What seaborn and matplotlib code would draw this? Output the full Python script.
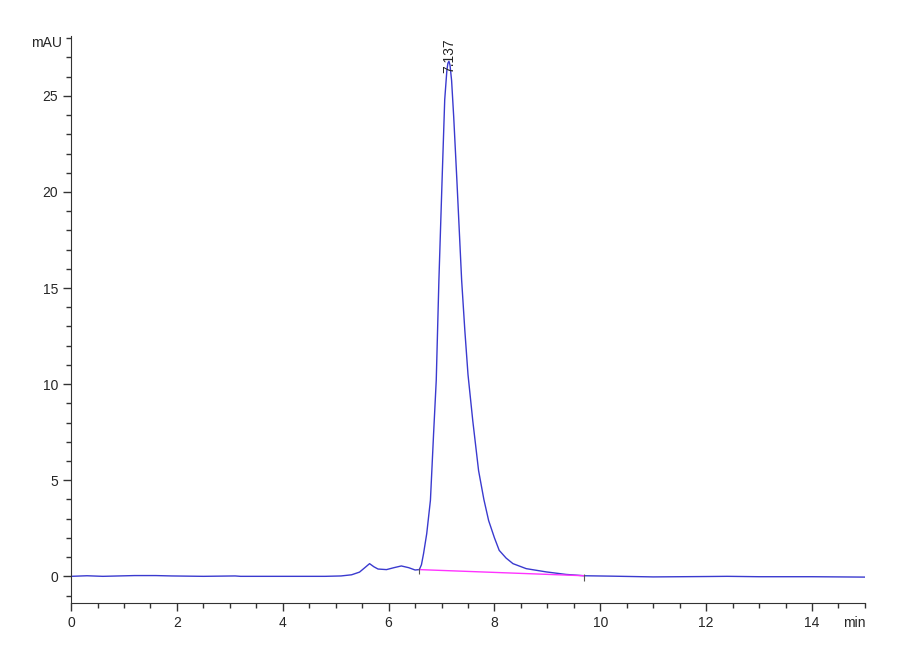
import numpy as np
import pandas as pd
import seaborn as sns
import matplotlib
matplotlib.use("Agg")
import matplotlib.pyplot as plt
import matplotlib.ticker as ticker

# chromatogram trace (time in min, signal in mAU)
time_min = [0.0, 0.3, 0.6, 0.9, 1.2, 1.6, 1.9, 2.5, 3.1, 3.2, 4.0, 4.8,
            5.1, 5.3, 5.45, 5.55, 5.64, 5.72, 5.8, 5.96, 6.1, 6.24, 6.38,
            6.5, 6.58, 6.62, 6.66, 6.72, 6.79, 6.82, 6.85, 6.90, 6.95,
            7.01, 7.06, 7.10, 7.12, 7.14, 7.16, 7.19, 7.23, 7.29, 7.38,
            7.44, 7.50, 7.59, 7.70, 7.80, 7.89, 8.00, 8.09, 8.22, 8.35,
            8.60, 8.98, 9.35, 9.70, 10.2, 11.0, 12.0, 12.4, 13.0, 14.0,
            14.5, 15.0]
signal_mau = [0.0, 0.03, 0.0, 0.02, 0.04, 0.04, 0.02, 0.0, 0.02, 0.0, 0.0, 0.0,
              0.02, 0.08, 0.22, 0.45, 0.66, 0.5, 0.38, 0.35, 0.45, 0.54, 0.45,
              0.33, 0.35, 0.6, 1.18, 2.22, 3.96, 5.69, 7.44, 10.2, 15.4,
              20.6, 24.8, 26.3, 26.7, 26.8, 26.6, 25.8, 23.9, 20.6, 15.4,
              12.8, 10.5, 8.1, 5.5, 4.0, 2.9, 2.0, 1.35, 0.95, 0.66,
              0.40, 0.23, 0.10, 0.03, 0.01, -0.03, -0.01, 0.0, -0.02, -0.02,
              -0.03, -0.04]

# integration baseline of the main peak
base_t = [6.58, 9.70]
base_v = [0.35, 0.03]

peak_rt = 7.137
peak_label = "7.137"

df = pd.DataFrame({"t": time_min, "v": signal_mau})

sns.set_style("ticks")
plt.rcParams["font.family"] = ["Liberation Sans Narrow", "Liberation Sans", "DejaVu Sans"]

fig = plt.figure(figsize=(9, 6.6), dpi=100)
ax = fig.add_axes([0.079, 0.086, 0.882, 0.859])

sns.lineplot(data=df, x="t", y="v", ax=ax, color="#3a3acf", linewidth=1.0,
             estimator=None, sort=False)
ax.plot(base_t, base_v, color="#ff33ff", linewidth=1.0)
ax.vlines(base_t, [v - 0.25 for v in base_v], [v + 0.1 for v in base_v],
          color="#555555", linewidth=0.8)

ax.text(peak_rt, 26.2, peak_label, rotation=90, ha="center", va="bottom",
        fontsize=10, color="#222222")

ax.set_xlim(0, 15)
ax.set_ylim(-1.4, 28.1)
ax.xaxis.set_major_locator(ticker.MultipleLocator(2))
ax.xaxis.set_minor_locator(ticker.MultipleLocator(0.5))
ax.yaxis.set_major_locator(ticker.MultipleLocator(5))
ax.yaxis.set_minor_locator(ticker.MultipleLocator(1))
ax.tick_params(which="major", length=6, width=1, labelsize=10, color="#333333")
ax.tick_params(which="minor", length=3.5, width=1, color="#333333")
ax.set_xlabel("")
ax.set_ylabel("")
sns.despine(ax=ax)
for s in ["left", "bottom"]:
    ax.spines[s].set_color("#333333")

ax.text(-0.012, 0.988, "mAU", transform=ax.transAxes, ha="right", va="center",
        fontsize=10)
ax.text(0.987, -0.034, "min", transform=ax.transAxes, ha="center", va="center",
        fontsize=10)

fig.savefig("out.png", dpi=100, facecolor="white")
